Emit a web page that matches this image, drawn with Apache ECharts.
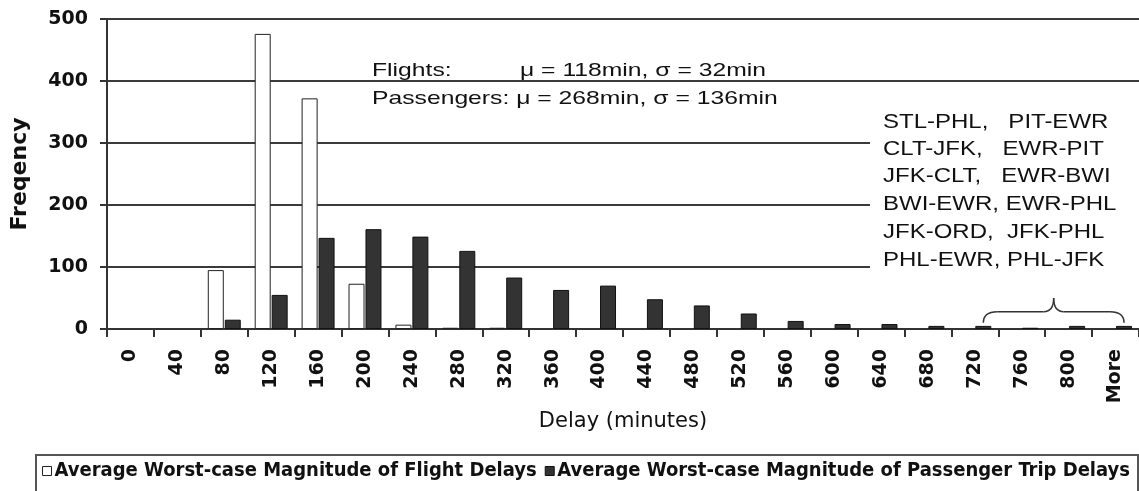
<!DOCTYPE html>
<html>
<head>
<meta charset="utf-8">
<script src="https://cdn.jsdelivr.net/npm/echarts@6/dist/echarts.min.js"></script>
<style>
  html, body { margin: 0; padding: 0; background: #ffffff; }
  #chart { width: 1139px; height: 491px; }
</style>
</head>
<body>
<div id="chart"></div>
<script>
// ---- data ----
const categories = ['0','40','80','120','160','200','240','280','320','360','400','440','480','520','560','600','640','680','720','760','800','More'];
const flightDelays = [0,0,95,476,372,73,7,2,2,0,0,0,0,0,0,0,0,0,0,0,0,0];
const passengerDelays = [0,0,15,55,147,161,149,126,83,63,70,48,38,25,13,8,8,5,5,2,5,5];
const yTicks = [0,100,200,300,400,500];
const seriesNames = ['Average Worst-case Magnitude of Flight Delays', 'Average Worst-case Magnitude of Passenger Trip Delays'];
const statsLines = [
  ['Flights:', 'μ = 118min, σ = 32min'],
  ['Passengers: μ = 268min, σ = 136min']
];
const routeLines = [
  'STL-PHL,   PIT-EWR',
  'CLT-JFK,   EWR-PIT',
  'JFK-CLT,   EWR-BWI',
  'BWI-EWR, EWR-PHL',
  'JFK-ORD,  JFK-PHL',
  'PHL-EWR, PHL-JFK'
];
const bracketFrom = '720';
const bracketTo = 'More';

const chart = echarts.init(document.getElementById('chart'), null, { renderer: 'canvas' });
const axisFont = 'DejaVu Sans';
const hide0 = v => (v === 0 ? '-' : v);

chart.setOption({
  backgroundColor: '#ffffff',
  animation: false,
  grid: { left: 107, top: 19, width: 1041, height: 310, containLabel: false },
  legend: {
    left: 42, top: 461, padding: 0,
    itemWidth: 9, itemHeight: 9, itemGap: 8,
    textStyle: { fontFamily: 'Liberation Sans Narrow, DejaVu Sans Condensed, Liberation Sans', fontWeight: 'bold', fontSize: 20, color: '#111', padding: [0,0,0,-2] },
    data: [
      { name: seriesNames[0], icon: 'rect', itemStyle: { color: '#ffffff', borderColor: '#222', borderWidth: 1 } },
      { name: seriesNames[1], icon: 'rect', itemStyle: { color: '#333333', borderColor: '#111', borderWidth: 1 } }
    ]
  },
  xAxis: {
    type: 'category',
    data: categories,
    boundaryGap: true,
    name: 'Delay (minutes)',
    nameLocation: 'middle',
    nameGap: 76,
    nameTextStyle: { fontFamily: axisFont, fontSize: 21, color: '#111' },
    axisLine: { lineStyle: { color: '#333', width: 2 } },
    axisTick: { show: true, interval: 0, length: 8, lineStyle: { color: '#333', width: 2 } },
    axisLabel: { interval: 0, rotate: 90, margin: 20, fontFamily: axisFont, fontWeight: 'bold', fontSize: 19, color: '#111' },
    splitLine: { show: false }
  },
  yAxis: {
    type: 'value',
    min: 0, max: 500, interval: 100,
    name: 'Freqency',
    nameLocation: 'middle',
    nameGap: 76,
    nameTextStyle: { fontFamily: axisFont, fontWeight: 'bold', fontSize: 22, color: '#111' },
    axisLine: { show: true, lineStyle: { color: '#333', width: 2 } },
    axisTick: { show: true, length: 7, lineStyle: { color: '#333', width: 2 } },
    axisLabel: { margin: 19, fontFamily: axisFont, fontWeight: 'bold', fontSize: 19, color: '#111',
      formatter: v => (yTicks.indexOf(v) >= 0 ? String(v) : '') },
    splitLine: { show: true, lineStyle: { color: '#3a3a3a', width: 2 } }
  },
  series: [
    {
      name: seriesNames[0], type: 'bar', data: flightDelays.map(hide0),
      barWidth: 16, barGap: '6%',
      itemStyle: { color: '#ffffff', borderColor: '#222', borderWidth: 1 },
      z: 3
    },
    {
      name: seriesNames[1], type: 'bar', data: passengerDelays.map(hide0),
      barWidth: 16, barGap: '6%',
      itemStyle: { color: '#333333', borderColor: '#111', borderWidth: 1 },
      z: 3
    }
  ]
});

// ---- annotations (computed after layout) ----
const xOf = c => chart.convertToPixel({ xAxisIndex: 0 }, c);
const yOf = v => chart.convertToPixel({ yAxisIndex: 0 }, v);
const barOffset = 8.5; // passenger bar centre relative to category centre
const bx1 = xOf(bracketFrom) + barOffset;
const bx2 = xOf(bracketTo) + barOffset;
const bm = (bx1 + bx2) / 2;
const yEnd = yOf(10), yMid = yOf(28), yPeak = yOf(50);
const braceStyle = { fill: null, stroke: '#333', lineWidth: 1.5 };
const curve = (x1, y1, cx, cy, x2, y2) => ({ type: 'bezierCurve', z: 5, shape: { x1: x1, y1: y1, x2: x2, y2: y2, cpx1: cx, cpy1: cy }, style: braceStyle });
const seg = (x1, y1, x2, y2) => ({ type: 'line', z: 5, shape: { x1: x1, y1: y1, x2: x2, y2: y2 }, style: braceStyle });

const annFont = '19px "Liberation Sans", Arial, sans-serif';
const routeFont = '20px "Liberation Sans", Arial, sans-serif';
const graphics = [
  { type: 'rect', z: 1, shape: { x: 870, y: 97, width: 300, height: 193 }, style: { fill: '#ffffff' } },
  { type: 'text', z: 5, x: 372, y: 71, scaleX: 1.3, style: { text: statsLines[0][0], font: annFont, fill: '#111', verticalAlign: 'middle', align: 'left' } },
  { type: 'text', z: 5, x: 520, y: 71, scaleX: 1.3, style: { text: statsLines[0][1], font: annFont, fill: '#111', verticalAlign: 'middle', align: 'left' } },
  { type: 'text', z: 5, x: 372, y: 99, scaleX: 1.3, style: { text: statsLines[1][0], font: annFont, fill: '#111', verticalAlign: 'middle', align: 'left' } },
  curve(bx1, yEnd, bx1, yMid, bx1 + 14, yMid),
  seg(bx1 + 14, yMid, bm - 10, yMid),
  curve(bm - 10, yMid, bm, yMid, bm, yPeak),
  curve(bm, yPeak, bm, yMid, bm + 10, yMid),
  seg(bm + 10, yMid, bx2 - 14, yMid),
  curve(bx2 - 14, yMid, bx2, yMid, bx2, yEnd),
  { type: 'rect', z: 5, shape: { x: 36, y: 455, width: 1102, height: 40 }, style: { fill: null, stroke: '#555', lineWidth: 2 } }
];
const routeY = [122, 149, 176, 204, 232, 260];
routeLines.forEach((t, i) => {
  graphics.push({ type: 'text', z: 5, x: 883, y: routeY[i], scaleX: 1.2,
    style: { text: t, font: routeFont, fill: '#111', verticalAlign: 'middle', align: 'left' } });
});
chart.setOption({ graphic: graphics });
</script>
</body>
</html>
